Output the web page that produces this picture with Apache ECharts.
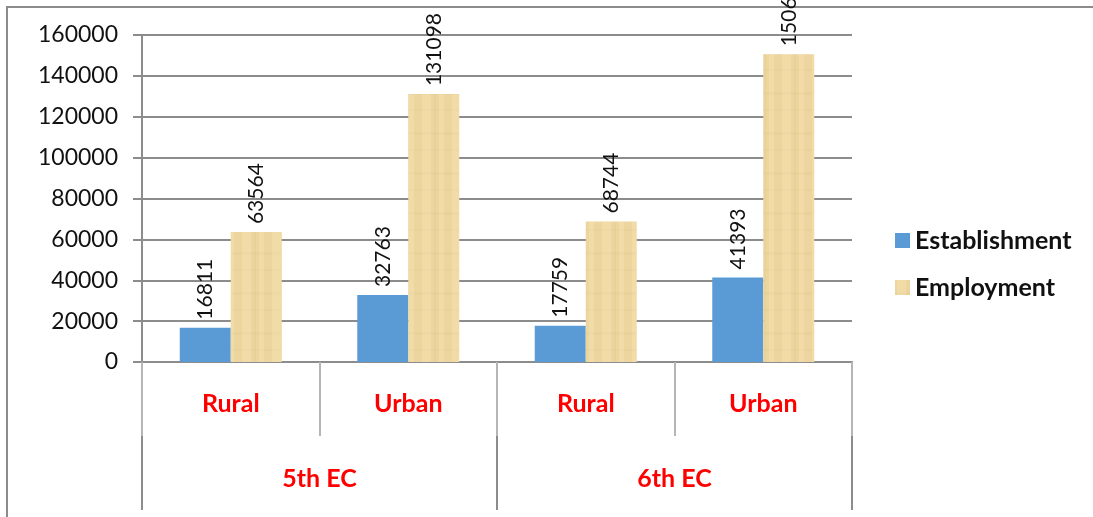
<!DOCTYPE html>
<html>
<head>
<meta charset="utf-8">
<script src="https://cdn.jsdelivr.net/npm/echarts@6/dist/echarts.min.js"></script>
<style>
  html, body { margin: 0; padding: 0; background: #fff; }
  #chart { width: 1093px; height: 517px; }
</style>
</head>
<body>
<div id="chart"></div>
<script>
// data
const areas = ["Rural", "Urban", "Rural", "Urban"];
const censuses = ["5th EC", "6th EC"];
const establishment = [16811, 32763, 17759, 41393];
const employment = [63564, 131098, 68744, 150634];
const yTicks = { min: 0, max: 160000, interval: 20000 };

// papyrus-like fill for the employment bars
function papyrus() {
  const c = document.createElement("canvas");
  c.width = 30; c.height = 40;
  const g = c.getContext("2d");
  g.fillStyle = "#ECD59E";
  g.fillRect(0, 0, 30, 40);
  g.fillStyle = "rgba(248,228,180,0.45)";
  g.fillRect(2, 0, 9, 40);
  g.fillRect(19, 0, 5, 40);
  g.fillStyle = "rgba(200,175,115,0.08)";
  g.fillRect(0, 12, 30, 3);
  g.fillRect(0, 29, 30, 2);
  g.fillRect(14, 0, 2, 40);
  return c;
}

const chart = echarts.init(document.getElementById("chart"));
const gray = "#8c8c8c";
const font = "Lato, 'Open Sans', sans-serif";

const valueLabel = {
  show: true,
  position: "top",
  rotate: 90,
  align: "left",
  verticalAlign: "middle",
  distance: 8,
  fontFamily: font,
  fontSize: 21,
  color: "#111"
};

chart.setOption({
  animation: false,
  graphic: [{
    type: "rect",
    shape: { x: 7, y: 7, width: 1200, height: 600 },
    style: { fill: "none", stroke: gray, lineWidth: 2 }
  }],
  legend: {
    orient: "vertical",
    left: 890,
    top: 223,
    itemWidth: 15,
    itemHeight: 15,
    itemGap: 22,
    icon: "rect",
    textStyle: { fontFamily: font, fontSize: 25, fontWeight: "bold", color: "#111" },
    data: ["Establishment", "Employment"]
  },
  grid: { left: 142, right: 241, top: 35, bottom: 155, containLabel: false },
  xAxis: [{
    type: "category",
    data: areas,
    position: "bottom",
    axisLine: { lineStyle: { color: gray, width: 2 } },
    axisTick: { show: true, length: 74, lineStyle: { color: "#b5b5b5", width: 2 } },
    axisLabel: {
      margin: 29, fontFamily: font, fontSize: 25, fontWeight: "bold", color: "#ff0000"
    }
  }, {
    type: "category",
    data: censuses,
    position: "bottom",
    offset: 74,
    axisLine: { show: false },
    axisTick: { show: true, length: 74, lineStyle: { color: gray, width: 2 } },
    axisLabel: {
      margin: 30, fontFamily: font, fontSize: 25, fontWeight: "bold", color: "#ff0000"
    }
  }],
  yAxis: {
    type: "value",
    min: yTicks.min,
    max: yTicks.max,
    interval: yTicks.interval,
    axisLine: { show: true, lineStyle: { color: gray, width: 2 } },
    axisTick: { show: true, length: 9, lineStyle: { color: gray, width: 2 } },
    splitLine: { lineStyle: { color: gray, width: 2 } },
    axisLabel: {
      margin: 24, fontFamily: font, fontSize: 23, color: "#111",
      formatter: (v) => String(v)
    }
  },
  series: [{
    name: "Establishment",
    type: "bar",
    data: establishment,
    barWidth: 51,
    barGap: "0%",
    itemStyle: { color: "#5B9BD5" },
    label: valueLabel
  }, {
    name: "Employment",
    type: "bar",
    data: employment,
    barWidth: 51,
    barGap: "0%",
    itemStyle: { color: { image: papyrus(), repeat: "repeat" } },
    label: valueLabel
  }]
});
</script>
</body>
</html>
